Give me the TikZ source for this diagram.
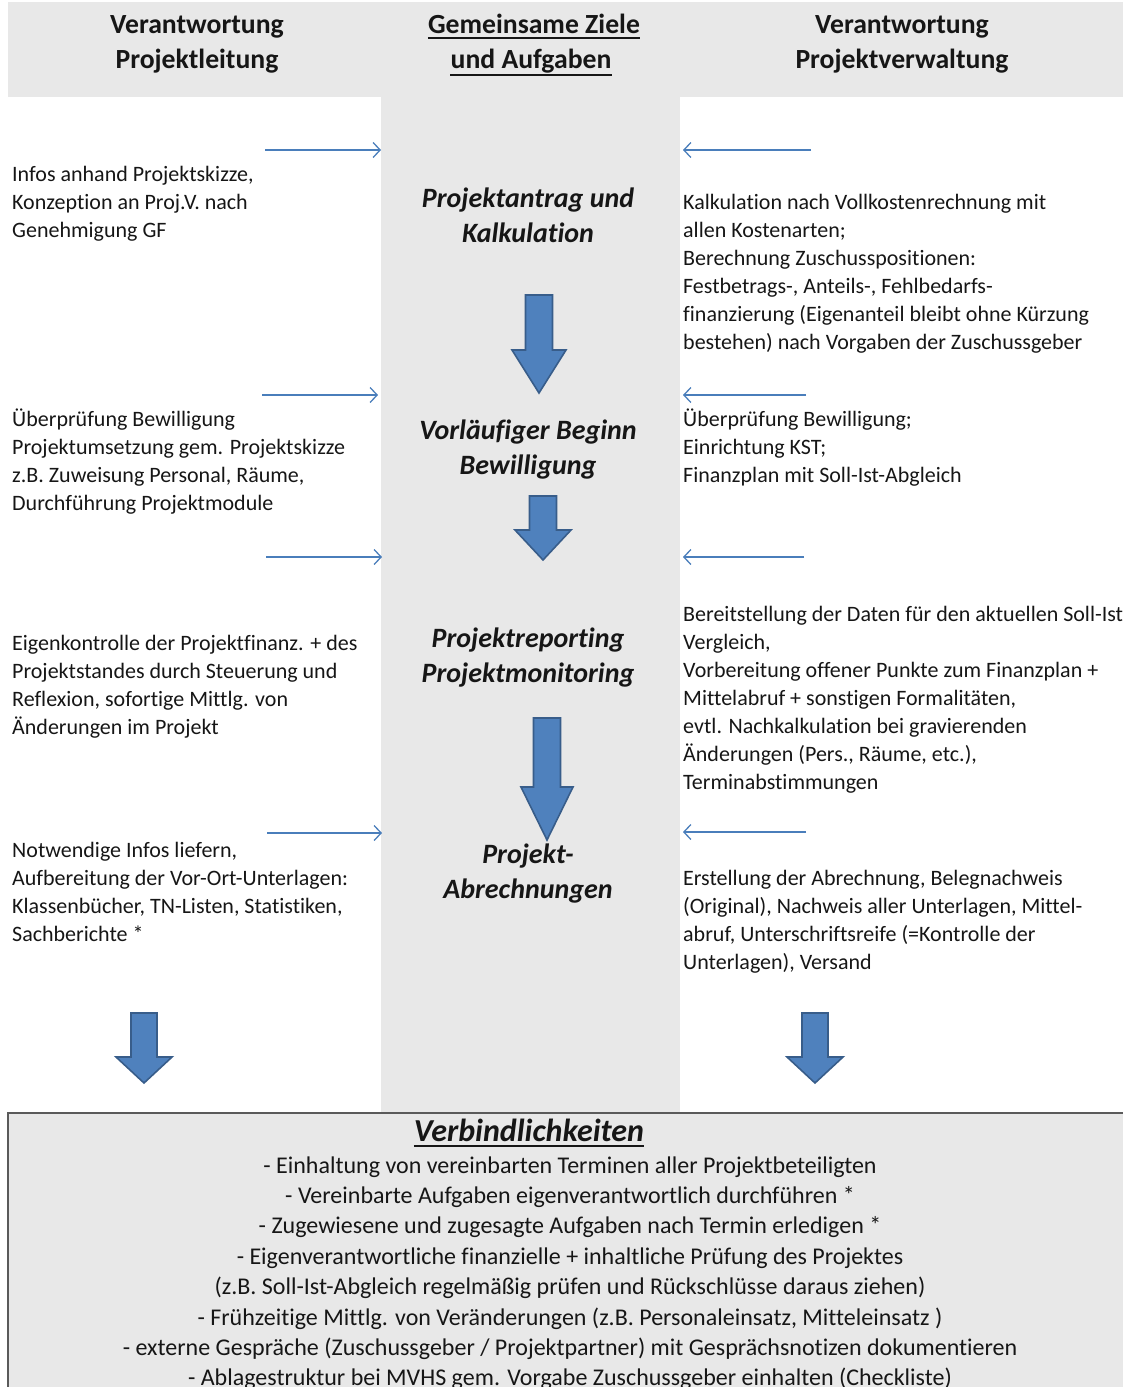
\documentclass[tikz,border=0pt]{standalone}
\usepackage{fontspec}
\setmainfont{Carlito}[Ligatures=NoCommon]
\usetikzlibrary{arrows.meta}
\definecolor{bgray}{HTML}{E8E8E8}
\definecolor{thinblue}{HTML}{4A7EBB}
\definecolor{blkfill}{HTML}{4F81BD}
\definecolor{blkdraw}{HTML}{385D8A}
\definecolor{txtc}{HTML}{161616}
\definecolor{boxline}{HTML}{5A5A5A}
\tikzset{
  bodytxt/.style={font=\fontsize{22}{28}\selectfont, text=txtc, inner sep=0pt},
  headtxt/.style={font=\fontsize{27.7}{35}\selectfont\bfseries, text=txtc, inner sep=0pt, anchor=base},
  midtitle/.style={font=\fontsize{28}{35}\selectfont\bfseries\itshape, text=txtc, inner sep=0pt, anchor=base},
  bigtitle/.style={font=\fontsize{32}{36}\selectfont\bfseries\itshape, text=txtc, inner sep=0pt, anchor=base},
  botline/.style={font=\fontsize{24}{30}\selectfont, text=txtc, inner sep=0pt, anchor=base},
  thinarrow/.style={draw=thinblue, line width=1.3pt, -{Straight Barb[length=7pt,width=15pt,line width=1.3pt]}},
  blockarrow/.style={fill=blkfill, draw=blkdraw, line width=1.6pt, line join=miter},
  panel/.style={fill=bgray, draw=none},
  uline/.style={draw=txtc, line width=2pt},
}
\newcommand\TxtBlock[4]{%
  \foreach \ln [count=\k] in {#4}{
    \node[bodytxt, anchor=base west] (#1-\k) at (#2, {#3+28*(\k-1)}) {\ln};
  }%
}
\newcommand\BlockArrow[6]{%
  \path[blockarrow] ({#1-#5},#2) -- ({#1+#5},#2) -- ({#1+#5},#3) -- ({#1+#6},#3)
    -- (#1,#4) -- ({#1-#6},#3) -- ({#1-#5},#3) -- cycle;%
}
\begin{document}
\begin{tikzpicture}[x=1pt, y=-1pt]
\useasboundingbox (0,0) rectangle (1123,1387);
% backgrounds
\path[panel] (8,2) rectangle (1123,97);
\path[panel] (381,97) rectangle (680,1113);
\path[panel] (8,1113) rectangle (1135,1395);
\draw[draw=boxline, line width=1.5pt] (1135,1113) -- (8,1113) -- (8,1395);

% headers
\node[headtxt] (hl1) at (197,33) {Verantwortung};
\node[headtxt] (hl2) at (197,68) {Projektleitung};
\node[headtxt] (hm1) at (534,33) {Gemeinsame Ziele\ };
\node[headtxt] (hm2) at (531,68) {und Aufgaben};
\draw[uline] ([yshift=-5pt]hm1.base west) -- ([yshift=-5pt]hm1.base east);
\draw[uline] ([yshift=-7pt]hm2.base west) -- ([yshift=-7pt]hm2.base east);
\node[headtxt] (hr1) at (902,33) {Verantwortung};
\node[headtxt] (hr2) at (902,68) {Projektverwaltung};

% middle titles
\node[midtitle] (m1a) at (528,207) {Projektantrag und};
\node[midtitle] (m1b) at (528,242) {Kalkulation};
\node[midtitle] (m2a) at (528,439) {Vorläufiger Beginn};
\node[midtitle] (m2b) at (528,474) {Bewilligung};
\node[midtitle] (m3a) at (528,647) {Projektreporting};
\node[midtitle] (m3b) at (528,682) {Projektmonitoring};
\node[midtitle] (m4a) at (528,863) {Projekt-};
\node[midtitle] (m4b) at (528,898) {Abrechnungen};

% left texts
\TxtBlock{l1}{12}{181}{{Infos anhand Projektskizze,},{Konzeption an Proj.V. nach},{Genehmigung GF}}
\TxtBlock{l2}{12}{426}{{Überprüfung Bewilligung},{Projektumsetzung gem. Projektskizze},{z.B. Zuweisung Personal, Räume,},{Durchführung Projektmodule}}
\TxtBlock{l3}{12}{650}{{Eigenkontrolle der Projektfinanz. + des},{Projektstandes durch Steuerung und},{Reflexion, sofortige Mittlg. von},{Änderungen im Projekt}}
\TxtBlock{l4}{12}{857}{{Notwendige Infos liefern,},{Aufbereitung der Vor-Ort-Unterlagen:},{Klassenbücher, TN-Listen, Statistiken,},{Sachberichte *}}

% right texts
\TxtBlock{r1}{683}{209}{{Kalkulation nach Vollkostenrechnung mit},{allen Kostenarten;},{Berechnung Zuschusspositionen:},{Festbetrags-, Anteils-, Fehlbedarfs-},{finanzierung (Eigenanteil bleibt ohne Kürzung},{bestehen) nach Vorgaben der Zuschussgeber}}
\TxtBlock{r2}{683}{426}{{Überprüfung Bewilligung;},{Einrichtung KST;},{Finanzplan mit Soll-Ist-Abgleich}}
\TxtBlock{r3}{683}{621}{{Bereitstellung der Daten für den aktuellen Soll-Ist-},{Vergleich,},{Vorbereitung offener Punkte zum Finanzplan +},{Mittelabruf + sonstigen Formalitäten,},{evtl. Nachkalkulation bei gravierenden},{Änderungen (Pers., Räume, etc.),},{Terminabstimmungen}}
\TxtBlock{r4}{683}{885}{{Erstellung der Abrechnung, Belegnachweis},{(Original), Nachweis aller Unterlagen, Mittel-},{abruf, Unterschriftsreife (=Kontrolle der},{Unterlagen), Versand}}

% thin arrows
\coordinate (la1s) at (265,150); \coordinate (la1e) at (381,150);
\coordinate (ra1s) at (811,150); \coordinate (ra1e) at (683,150);
\coordinate (la2s) at (262,395); \coordinate (la2e) at (378,395);
\coordinate (ra2s) at (806,395); \coordinate (ra2e) at (683,395);
\coordinate (la3s) at (266,557); \coordinate (la3e) at (382,557);
\coordinate (ra3s) at (804,557); \coordinate (ra3e) at (683,557);
\coordinate (la4s) at (267,833); \coordinate (la4e) at (382,833);
\coordinate (ra4s) at (806,832); \coordinate (ra4e) at (683,832);
\foreach \a in {la1,ra1,la2,ra2,la3,ra3,la4,ra4}{
  \draw[thinarrow] (\a s) -- (\a e);
}

% block arrows
\BlockArrow{539}{295}{350}{393}{13.5}{27}
\BlockArrow{543}{496}{530}{560}{13.5}{28}
\BlockArrow{547}{718}{787}{840}{13.5}{26}
\BlockArrow{144}{1013}{1057}{1083}{13}{28}
\BlockArrow{815}{1013}{1057}{1083}{13}{28}

% bottom box
\node[bigtitle] (vb) at (529,1141) {Verbindlichkeiten};
\draw[uline, line width=2.5pt] ([yshift=-5pt]vb.base west) -- ([yshift=-5pt]vb.base east);
\foreach \t [count=\k] in {
  {- Einhaltung von vereinbarten Terminen aller Projektbeteiligten},
  {- Vereinbarte Aufgaben eigenverantwortlich durchführen *},
  {- Zugewiesene und zugesagte Aufgaben nach Termin erledigen *},
  {- Eigenverantwortliche finanzielle + inhaltliche Prüfung des Projektes},
  {(z.B. Soll-Ist-Abgleich regelmäßig prüfen und Rückschlüsse daraus ziehen)},
  {- Frühzeitige Mittlg. von Veränderungen (z.B. Personaleinsatz, Mitteleinsatz )},
  {- externe Gespräche (Zuschussgeber / Projektpartner) mit Gesprächsnotizen dokumentieren},
  {- Ablagestruktur bei MVHS gem. Vorgabe Zuschussgeber einhalten (Checkliste)}}{
  \node[botline] (vl-\k) at (570, {1173+30.4*(\k-1)}) {\t};
}
\end{tikzpicture}
\end{document}
